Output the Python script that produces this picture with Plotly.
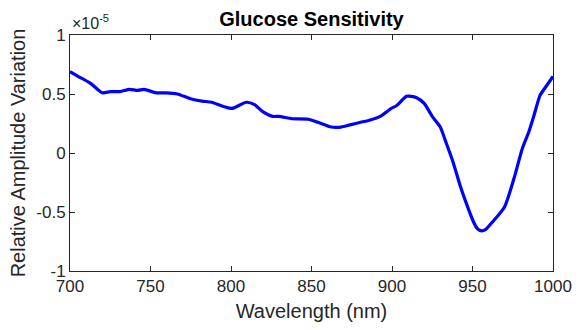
import plotly.graph_objects as go

wavelength = [700, 705, 712.8, 720, 725, 731, 737, 742, 746, 753.5, 759.6, 766.7, 774.8, 782, 788, 794, 799,
              801.4, 809.5, 814.6, 819.7, 825.8, 829.8, 838, 848, 854, 862.3, 868.4, 874.5, 880.5, 886.6,
              892.7, 899.8, 902.8, 909, 912, 915, 920, 925, 930, 933, 938, 942.4, 946.5, 950.5, 953, 955.6,
              958, 962.7, 969.8, 975.9, 981, 985, 988, 992, 996, 1000]
amplitude = [0.69, 0.65, 0.59, 0.51, 0.52, 0.52, 0.54, 0.53, 0.54, 0.51, 0.51, 0.50, 0.46, 0.44, 0.43, 0.40, 0.38,
             0.38, 0.43, 0.41, 0.35, 0.31, 0.31, 0.29, 0.286, 0.26, 0.22, 0.22, 0.24, 0.26, 0.28,
             0.31, 0.38, 0.40, 0.48, 0.48, 0.47, 0.42, 0.31, 0.22, 0.11, -0.08, -0.28, -0.44, -0.58, -0.64, -0.66,
             -0.65, -0.58, -0.46, -0.21, 0.04, 0.18, 0.31, 0.49, 0.57, 0.65]

x_ticks = [700, 750, 800, 850, 900, 950, 1000]
y_ticks = [-1, -0.5, 0, 0.5, 1]
y_tick_labels = ["-1", "-0.5", "0", "0.5", "1"]

axis_color = "#262626"
font_family = "Liberation Sans, Arial, sans-serif"

fig_w, fig_h = 584, 330

fig = go.Figure()
fig.add_trace(go.Scatter(x=wavelength, y=amplitude, mode="lines",
                         line=dict(color="#0000ff", width=3.2, shape="spline", smoothing=0.6),
                         showlegend=False, hoverinfo="skip"))

fig.update_layout(
    width=fig_w, height=fig_h,
    margin=dict(l=70, r=21, t=35, b=55),
    paper_bgcolor="white", plot_bgcolor="white",
    hovermode=False,
    font=dict(family=font_family, color=axis_color, size=17),
    title=dict(text="<b>Glucose Sensitivity</b>", x=0.5, xref="paper", xanchor="center",
               y=1 - 19 / fig_h, yref="container", yanchor="middle",
               font=dict(size=20, color="black", family=font_family)),
    xaxis=dict(range=[700, 1000], tickvals=x_ticks, ticks="inside", ticklen=5, tickcolor=axis_color,
               showline=True, linecolor=axis_color, linewidth=1, mirror="ticks", showgrid=False,
               zeroline=False, tickfont=dict(size=17, color=axis_color), ticklabeloverflow="allow",
               title=dict(text="Wavelength (nm)", font=dict(size=20, color=axis_color), standoff=8)),
    yaxis=dict(range=[-1, 1], tickvals=y_ticks, ticktext=y_tick_labels, ticks="inside", ticklen=5,
               tickcolor=axis_color, showline=True, linecolor=axis_color, linewidth=1, mirror="ticks",
               showgrid=False, zeroline=False, tickfont=dict(size=17, color=axis_color),
               title=dict(text="Relative Amplitude Variation", font=dict(size=20, color=axis_color), standoff=5)),
    annotations=[dict(text="×10<sup>-5</sup>", x=0, xref="paper", xanchor="left", y=1, yref="paper",
                      yanchor="bottom", yshift=1, showarrow=False, font=dict(size=16, color=axis_color))],
)

# remove the default page margin so the 584x330 figure fills the window exactly
fig.write_html("out.html",
               config={"displayModeBar": False, "staticPlot": True},
               post_script="document.body.style.margin='0';document.body.style.overflow='hidden';")
